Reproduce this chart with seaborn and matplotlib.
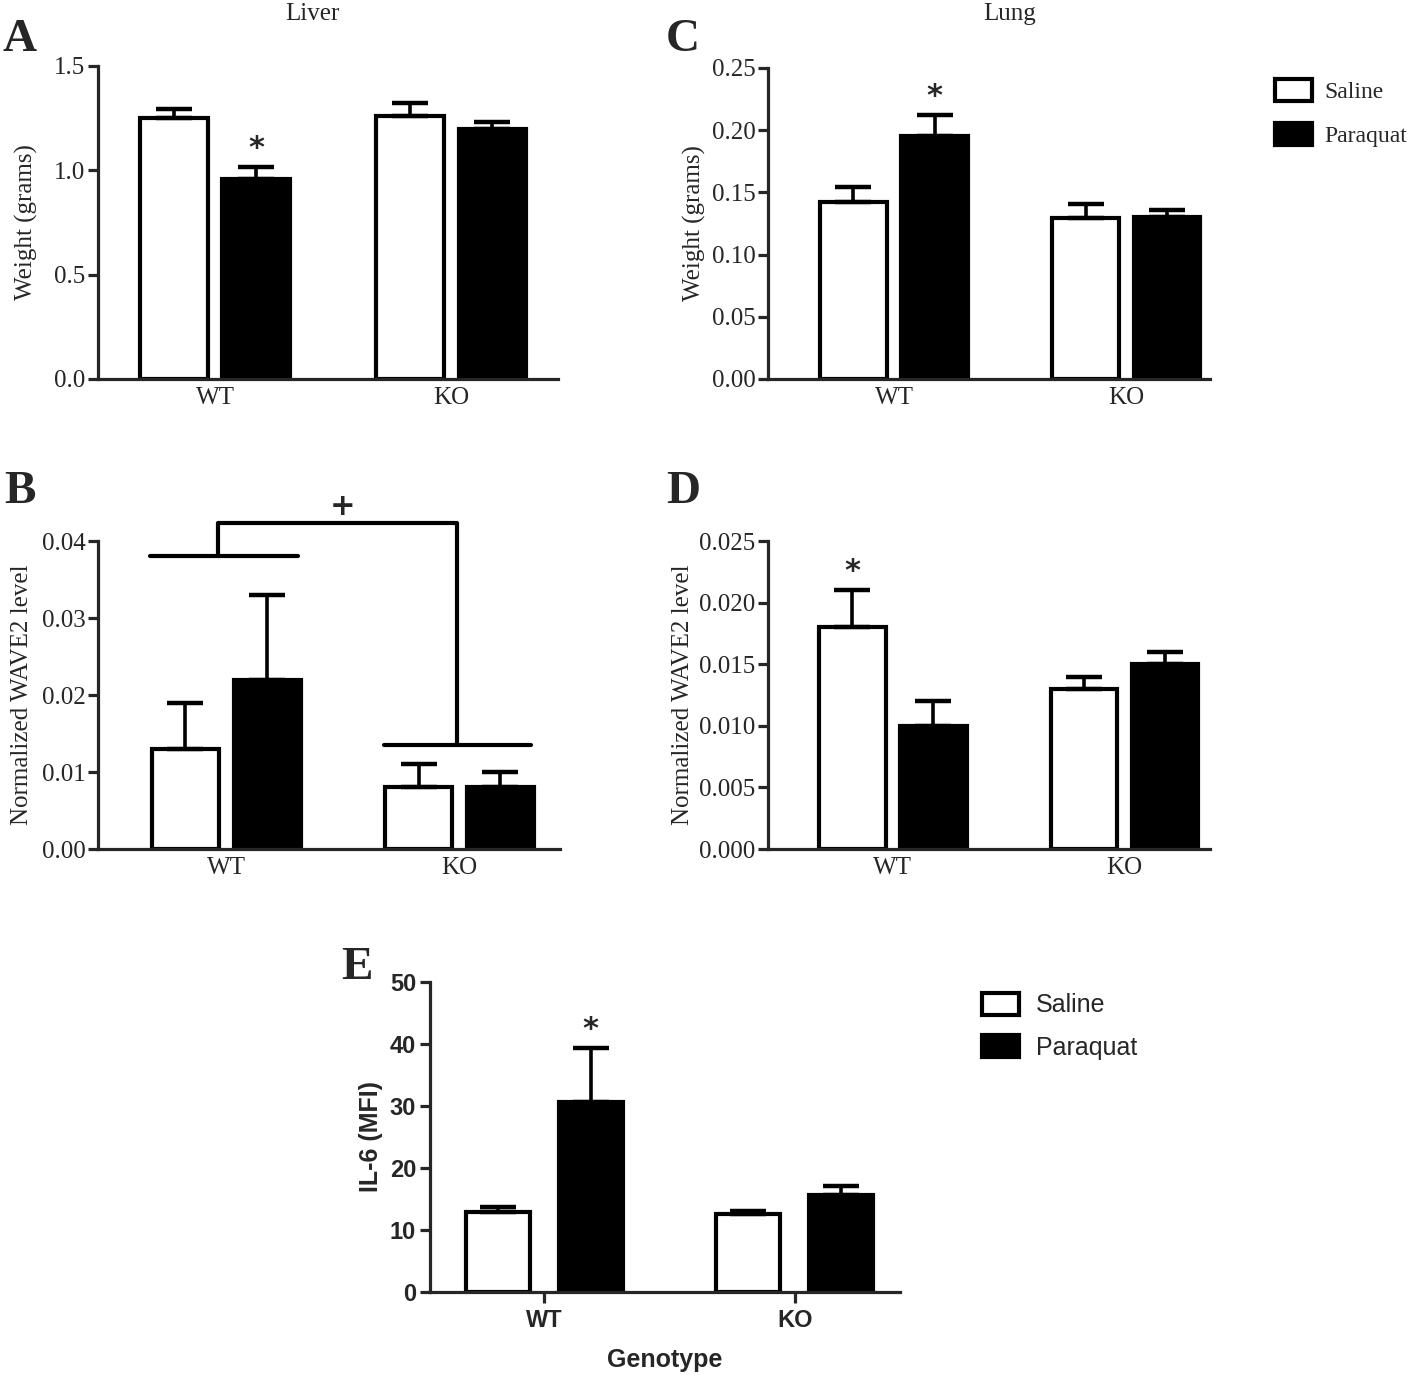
import pandas as pd
import seaborn as sns
import matplotlib.pyplot as plt
from matplotlib.patches import Patch
from matplotlib.ticker import FormatStrFormatter

genotypes = ["WT", "KO"]
treatments = ["Saline", "Paraquat"]

# panel values: mean per genotype, then upper SEM
liver_saline = [1.25, 1.26]
liver_paraquat = [0.96, 1.20]
liver_saline_err = [0.045, 0.065]
liver_paraquat_err = [0.055, 0.03]

lung_saline = [0.142, 0.129]
lung_paraquat = [0.195, 0.130]
lung_saline_err = [0.012, 0.012]
lung_paraquat_err = [0.017, 0.006]

liver_wave2_saline = [0.013, 0.008]
liver_wave2_paraquat = [0.022, 0.008]
liver_wave2_saline_err = [0.006, 0.003]
liver_wave2_paraquat_err = [0.011, 0.002]

lung_wave2_saline = [0.018, 0.013]
lung_wave2_paraquat = [0.010, 0.015]
lung_wave2_saline_err = [0.003, 0.001]
lung_wave2_paraquat_err = [0.002, 0.001]

il6_saline = [12.9, 12.6]
il6_paraquat = [30.7, 15.6]
il6_saline_err = [0.8, 0.4]
il6_paraquat_err = [8.6, 1.5]

SERIF = ["Liberation Serif", "DejaVu Serif"]
SANS = ["Liberation Sans Narrow", "Liberation Sans", "DejaVu Sans"]

sns.set_style("ticks")
plt.rcParams["font.family"] = SERIF
plt.rcParams["axes.linewidth"] = 2.3

palette = {"Saline": "white", "Paraquat": "black"}


def make_df(sal, pq):
    rows = []
    for i, g in enumerate(genotypes):
        rows.append({"Genotype": g, "Treatment": "Saline", "Value": sal[i]})
        rows.append({"Genotype": g, "Treatment": "Paraquat", "Value": pq[i]})
    return pd.DataFrame(rows)


def bar_panel(ax, sal, pq, sal_err, pq_err, width, gap):
    df = make_df(sal, pq)
    sns.barplot(data=df, x="Genotype", y="Value", hue="Treatment", order=genotypes,
                hue_order=treatments, palette=palette, edgecolor="black",
                linewidth=3, width=width, gap=gap, errorbar=None, ax=ax, legend=False)
    tops = {}
    for cont, errs, tr in zip(ax.containers, [sal_err, pq_err], treatments):
        for i, p in enumerate(cont.patches):
            xc = p.get_x() + p.get_width() / 2
            h = p.get_height()
            ax.errorbar([xc], [h], yerr=[[0], [errs[i]]], fmt="none", ecolor="black",
                        elinewidth=2.6, capsize=13, capthick=3.2, zorder=1)
            tops[(genotypes[i], tr)] = (xc, h + errs[i])
    sns.despine(ax=ax)
    ax.set_xlabel("")
    return tops


fig = plt.figure(figsize=(14.18, 13.75), dpi=100)

axA = fig.add_axes([0.0691, 0.7244, 0.3244, 0.2276])
axC = fig.add_axes([0.5416, 0.7244, 0.3117, 0.2262])
axB = fig.add_axes([0.0691, 0.3825, 0.3258, 0.2240])
axD = fig.add_axes([0.5416, 0.3825, 0.3117, 0.2240])
axE = fig.add_axes([0.3032, 0.0604, 0.3315, 0.2255])

serif_panels = [
    (axA, liver_saline, liver_paraquat, liver_saline_err, liver_paraquat_err,
     (0, 1.5), [0, 0.5, 1.0, 1.5], "%.1f", "Weight (grams)", (-0.496, 1.453), 12),
    (axC, lung_saline, lung_paraquat, lung_saline_err, lung_paraquat_err,
     (0, 0.25), [0, 0.05, 0.10, 0.15, 0.20, 0.25], "%.2f", "Weight (grams)", (-0.543, 1.36), 4),
    (axB, liver_wave2_saline, liver_wave2_paraquat, liver_wave2_saline_err, liver_wave2_paraquat_err,
     (0, 0.04), [0, 0.01, 0.02, 0.03, 0.04], "%.2f", "Normalized WAVE2 level", (-0.55, 1.43), 6),
    (axD, lung_wave2_saline, lung_wave2_paraquat, lung_wave2_saline_err, lung_wave2_paraquat_err,
     (0, 0.025), [0, 0.005, 0.010, 0.015, 0.020, 0.025], "%.3f", "Normalized WAVE2 level", (-0.54, 1.37), 4),
]

all_tops = []
for ax, s, p, se, pe, ylim, yt, fmt, ylab, xlim, lpad in serif_panels:
    tops = bar_panel(ax, s, p, se, pe, width=0.70, gap=0.18)
    all_tops.append(tops)
    ax.set_ylim(*ylim)
    ax.set_xlim(*xlim)
    ax.set_yticks(yt)
    ax.yaxis.set_major_formatter(FormatStrFormatter(fmt))
    ax.set_ylabel(ylab, fontsize=18, labelpad=lpad)
    ax.tick_params(axis="y", length=7, width=2.3, labelsize=18, pad=2)
    ax.tick_params(axis="x", length=0, labelsize=18, pad=6)

topsA, topsC, topsB, topsD = all_tops

# significance stars
for ax, tops, key in [(axA, topsA, ("WT", "Paraquat")), (axC, topsC, ("WT", "Paraquat")),
                      (axD, topsD, ("WT", "Saline"))]:
    xs, ys = tops[key]
    ax.annotate("*", (xs, ys), xytext=(0, 3), textcoords="offset points",
                ha="center", va="bottom", fontsize=22, fontweight="bold",
                family=["DejaVu Sans"])

# bracket on panel B
lw_br = 3
axB.plot([-0.326, 0.309], [0.038, 0.038], color="black", lw=lw_br, clip_on=False, solid_capstyle="round")
axB.plot([-0.034, -0.034, 0.987, 0.987], [0.038, 0.0423, 0.0423, 0.0135],
         color="black", lw=lw_br, clip_on=False)
axB.plot([0.674, 1.305], [0.0135, 0.0135], color="black", lw=lw_br, clip_on=False, solid_capstyle="round")
axB.text(0.50, 0.0426, "+", ha="center", va="bottom", fontsize=22, fontweight="bold",
         family=["DejaVu Sans"])

# titles and panel letters
fig.text(312 / 1418, 1 - 14 / 1375, "Liver", ha="center", va="center", fontsize=18)
fig.text(1010 / 1418, 1 - 14 / 1375, "Lung", ha="center", va="center", fontsize=18)
for lbl, x, y in [("A", 20, 40), ("C", 683, 40), ("B", 20, 492), ("D", 683, 492)]:
    fig.text(x / 1418, 1 - y / 1375, lbl, ha="center", va="center", fontsize=34, fontweight="bold")

leg_handles = [Patch(facecolor="white", edgecolor="black", linewidth=3),
               Patch(facecolor="black", edgecolor="black", linewidth=3)]
fig.legend(leg_handles, treatments, loc="upper left", bbox_to_anchor=(1254 / 1418, 1 - 58 / 1375),
           frameon=False, fontsize=17, handlelength=1.55, handleheight=1.05,
           labelspacing=0.85, handletextpad=0.55)

# panel E (sans bold)
topsE = bar_panel(axE, il6_saline, il6_paraquat, il6_saline_err, il6_paraquat_err, width=0.74, gap=0.31)
axE.set_ylim(0, 50)
axE.set_xlim(-0.456, 1.42)
axE.set_yticks([0, 10, 20, 30, 40, 50])
axE.tick_params(axis="y", length=7, width=2.3, pad=3)
axE.tick_params(axis="x", length=8, width=2.3, pad=4)
for t in axE.get_yticklabels() + axE.get_xticklabels():
    t.set_family(SANS)
    t.set_fontweight("bold")
    t.set_fontsize(17)
axE.set_ylabel("IL-6 (MFI)", family=SANS, fontweight="bold", fontsize=18, labelpad=5)
axE.set_xlabel("Genotype", family=SANS, fontweight="bold", fontsize=18, labelpad=12)
xs, ys = topsE[("WT", "Paraquat")]
axE.annotate("*", (xs, ys), xytext=(0, 3), textcoords="offset points",
             ha="center", va="bottom", fontsize=22, fontweight="bold", family=["DejaVu Sans"])
fig.text(357 / 1418, 1 - 968 / 1375, "E", ha="center", va="center", fontsize=34, fontweight="bold")
fig.legend(leg_handles, treatments, loc="upper left", bbox_to_anchor=(960 / 1418, 1 - 970 / 1375),
           frameon=False, prop={"family": SANS, "size": 18}, handlelength=1.45,
           handleheight=1.0, labelspacing=0.7, handletextpad=0.7)

fig.savefig("out.png", dpi=100)
